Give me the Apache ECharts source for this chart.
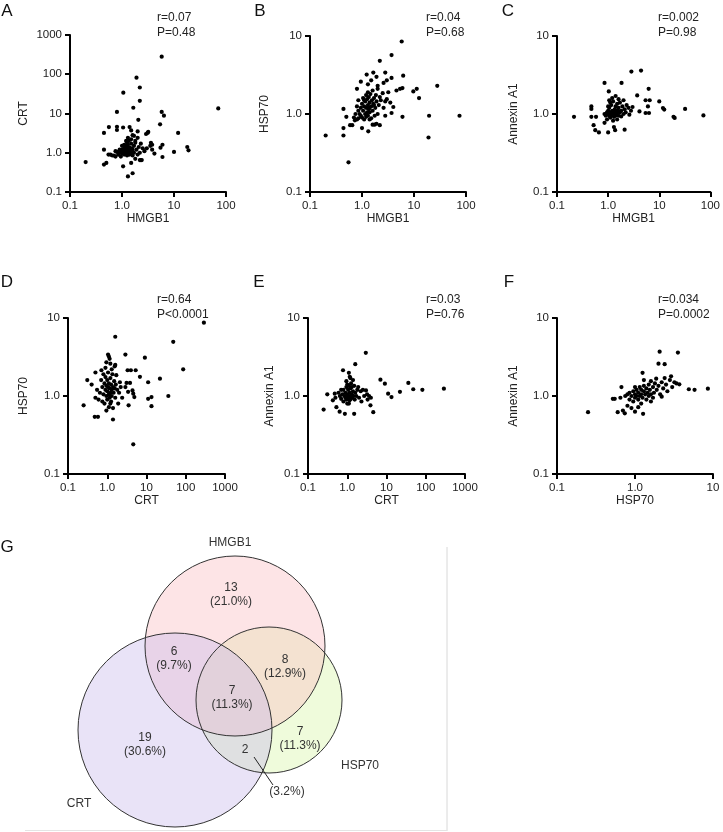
<!DOCTYPE html>
<html lang="en">
<head>
    <meta charset="UTF-8">
    <title>Correlation of HMGB1, CRT, HSP70, Annexin A1</title>
    <style>
        html, body { margin: 0; padding: 0; background: #fff; }
    </style>
</head>

<body>
<div id="main" style="width:723px;height:832px"></div>
<script src="https://cdn.jsdelivr.net/npm/echarts@6/dist/echarts.min.js"></script>
<script type="text/javascript">
    // ---- data ----
    var panelLetters = ['A', 'B', 'C', 'D', 'E', 'F'];
    var xNames = ['HMGB1', 'HMGB1', 'HMGB1', 'CRT', 'CRT', 'HSP70'];
    var yNames = ['CRT', 'HSP70', 'Annexin A1', 'HSP70', 'Annexin A1', 'Annexin A1'];
    var xMax = [100, 100, 100, 1000, 1000, 10];
    var yMax = [1000, 10, 10, 10, 10, 10];
    var statR = ['r=0.07', 'r=0.04', 'r=0.002', 'r=0.64', 'r=0.03', 'r=0.034'];
    var statP = ['P=0.48', 'P=0.68', 'P=0.98', 'P<0.0001', 'P=0.76', 'P=0.0002'];

    // A: HMGB1 vs CRT
    var hmgb1Crt = [
        [5.8, 280], [1.9, 82], [2.2, 46], [1.06, 34], [2.2, 21], [1.65, 14], [0.8, 11], [5.8, 11], [6.4, 8.8], [71, 13.5], [2.06, 6.9],
        [0.56, 4.5], [0.8, 4.6], [0.8, 3.8], [1.05, 4.4], [1.4, 4.5], [1.5, 3.7], [2.0, 3.5], [1.7, 2.7], [2.9, 3.0], [3.1, 3.2], [3.2, 3.4], [5.4, 5.3], [12, 3.2],
        [0.45, 3.2], [0.45, 1.2], [0.45, 0.5], [0.5, 0.55], [0.2, 0.58],
        [0.55, 0.9], [0.65, 0.85], [0.7, 0.85], [0.75, 0.8], [0.85, 0.9], [0.9, 1.0], [0.95, 1.1], [1.0, 1.2], [1.0, 0.95], [1.05, 1.0],
        [1.1, 1.3], [1.1, 0.9], [1.15, 1.5], [1.15, 1.1], [1.2, 0.95], [1.2, 1.25], [1.25, 1.8], [1.25, 1.4], [1.3, 1.0], [1.3, 1.6],
        [1.35, 1.2], [1.35, 2.0], [1.4, 0.9], [1.4, 1.35], [1.45, 1.1], [1.5, 1.7], [1.5, 1.0], [1.55, 1.3], [1.6, 0.85], [1.6, 1.2],
        [1.7, 1.5], [1.7, 1.0], [1.8, 2.0], [1.9, 1.2], [2.0, 0.9], [2.1, 1.4], [2.2, 1.0], [2.3, 1.7], [2.5, 1.3], [2.7, 1.1], [3.0, 1.3],
        [3.5, 1.5], [3.6, 1.8], [3.8, 1.2], [4.2, 0.95], [5.5, 1.35], [6.0, 0.78], [6.0, 1.6], [10, 1.05], [18, 1.4], [19, 1.15],
        [1.05, 0.45], [1.3, 0.25], [1.5, 0.55], [1.6, 0.3], [2.2, 0.65], [2.4, 0.65], [0.75, 1.1], [0.9, 1.2], [1.0, 1.5], [1.1, 1.6],
        [1.2, 2.0], [1.3, 2.4], [1.5, 2.2], [0.95, 0.8], [0.8, 1.05], [1.2, 1.1], [1.1, 1.05], [1.4, 1.05], [1.25, 0.85], [1.6, 1.05],
        [1.8, 0.7], [2.3, 0.65], [3.8, 1.6], [0.6, 0.9], [2.0, 2.4], [1.6, 2.8], [1.8, 1.8]
    ];
    // B: HMGB1 vs HSP70
    var hmgb1Hsp70 = [
        [5.8, 8.5], [3.7, 5.7], [2.2, 4.8], [1.23, 3.2], [1.65, 3.4], [1.9, 3.0], [2.8, 3.4], [3.7, 2.9], [3.0, 2.7], [0.95, 2.6], [0.8, 2.1],
        [6.2, 3.1], [4.6, 2.0], [5.4, 2.1], [6.0, 2.15], [9.7, 1.95], [11.3, 2.1], [12.5, 1.6], [28, 2.3], [2.6, 2.5], [2.0, 2.3], [1.5, 2.7], [1.3, 2.4],
        [19, 0.5], [19.5, 0.95], [75, 0.95], [6.0, 0.92], [2.8, 0.95], [3.7, 1.03], [4.0, 1.23], [0.44, 1.16], [0.44, 0.66], [0.44, 0.53],
        [0.2, 0.53], [0.55, 0.24], [0.5, 0.92], [0.59, 0.72], [0.65, 0.72], [0.73, 0.83], [0.85, 0.88], [1.0, 0.66], [1.32, 0.6], [1.6, 0.73],
        [1.75, 0.73], [1.4, 0.85],
        [0.8, 1.25], [0.85, 1.1], [0.85, 1.5], [0.9, 1.0], [0.95, 1.2], [1.0, 1.35], [1.0, 0.9], [1.05, 1.1], [1.05, 1.6], [1.1, 1.25],
        [1.1, 0.85], [1.15, 1.45], [1.15, 1.0], [1.2, 1.75], [1.2, 1.2], [1.25, 1.05], [1.25, 1.55], [1.3, 1.9], [1.3, 1.3], [1.3, 0.95],
        [1.35, 1.15], [1.35, 1.65], [1.4, 1.4], [1.4, 1.05], [1.45, 1.8], [1.5, 1.25], [1.5, 0.88], [1.55, 1.5], [1.6, 1.1], [1.6, 2.0],
        [1.65, 1.35], [1.7, 1.6], [1.75, 0.95], [1.8, 1.2], [1.85, 1.75], [1.9, 1.45], [2.0, 2.1], [2.0, 1.0], [2.1, 1.3], [2.2, 1.65],
        [2.3, 1.5], [2.5, 1.85], [2.6, 1.2], [2.8, 1.45], [3.0, 1.55], [3.2, 1.9], [3.5, 1.4], [0.95, 0.95], [1.1, 1.5], [1.2, 0.92],
        [1.4, 1.2], [1.7, 1.3], [1.9, 0.75], [2.2, 0.72], [0.7, 0.9], [0.75, 1.0], [0.8, 0.85]
    ];
    // C: HMGB1 vs Annexin A1
    var hmgb1Anx = [
        [4.4, 3.6], [2.85, 3.5], [0.85, 2.5], [1.83, 2.5], [6.2, 2.1], [3.7, 1.73], [1.03, 1.95], [5.4, 1.5], [6.5, 1.5], [10, 1.45],
        [11.8, 1.19], [12.5, 1.14], [19, 0.92], [20, 0.89], [32, 1.16], [73, 0.96], [6, 1.25], [6.3, 1.03], [5.4, 1.03], [4.1, 1.08], [3.0, 1.23],
        [0.215, 0.92], [0.47, 1.25], [0.47, 1.16], [0.47, 0.92], [0.58, 0.92], [0.52, 0.72], [0.56, 0.62], [0.66, 0.58], [1.0, 0.58],
        [1.37, 0.62], [2.1, 0.63], [0.85, 0.77], [1.3, 0.68],
        [0.85, 1.0], [0.9, 0.95], [0.95, 1.05], [1.0, 1.0], [1.0, 1.1], [1.05, 0.95], [1.05, 1.2], [1.1, 1.05], [1.1, 0.9], [1.15, 1.0],
        [1.15, 1.3], [1.2, 1.1], [1.2, 0.97], [1.25, 1.0], [1.25, 1.45], [1.3, 1.05], [1.3, 0.92], [1.35, 1.15], [1.35, 1.0], [1.4, 1.25],
        [1.4, 0.95], [1.45, 1.08], [1.5, 1.0], [1.5, 1.35], [1.55, 1.12], [1.6, 0.95], [1.6, 1.2], [1.7, 1.05], [1.7, 1.4], [1.8, 1.1],
        [1.8, 0.93], [1.9, 1.25], [2.0, 1.0], [2.0, 1.5], [2.1, 1.15], [2.2, 1.05], [2.3, 1.3], [2.5, 1.2], [2.6, 0.98], [2.8, 1.1],
        [1.1, 1.4], [1.2, 1.6], [1.0, 1.25], [0.95, 0.85], [1.25, 0.82], [1.5, 0.85], [1.05, 1.5], [1.4, 1.7], [1.6, 1.55]
    ];
    // D: CRT vs HSP70
    var crtHsp70 = [
        [290, 8.7], [48, 4.95], [86, 2.2], [1.6, 5.75], [2.9, 3.4], [9.1, 3.1], [1.05, 3.4], [1.1, 3.2], [1.15, 3.0], [0.95, 2.7], [1.2, 2.6],
        [1.55, 2.4], [0.31, 1.6], [0.5, 2.0], [0.71, 2.14], [0.25, 0.76], [0.48, 0.54], [0.58, 0.54], [1.4, 0.5], [4.6, 0.24], [11, 1.5],
        [22, 1.67], [36, 1.0], [13.4, 0.97], [11, 0.92], [13.4, 0.74], [3.3, 2.14], [4, 2.14], [5.3, 2.14], [6.8, 1.76], [3.1, 1.47],
        [3.8, 1.47], [2.9, 1.3], [3.4, 1.13], [4.4, 1.18], [4.6, 1.07], [4.9, 0.97], [3.5, 0.76], [0.4, 1.4], [0.55, 1.2], [0.6, 0.9],
        [0.5, 0.95], [0.65, 1.1],
        [0.7, 1.6], [0.75, 1.3], [0.75, 0.85], [0.8, 1.9], [0.8, 1.05], [0.85, 1.45], [0.85, 0.8], [0.9, 1.2], [0.9, 1.75], [0.95, 1.0],
        [0.95, 1.35], [1.0, 1.6], [1.0, 0.9], [1.0, 1.15], [1.05, 1.3], [1.05, 2.0], [1.1, 1.05], [1.1, 0.72], [1.1, 1.45], [1.15, 1.25],
        [1.15, 0.95], [1.2, 1.1], [1.2, 1.7], [1.25, 1.4], [1.25, 0.85], [1.3, 1.2], [1.3, 1.0], [1.35, 1.9], [1.4, 1.3], [1.4, 0.7],
        [1.45, 1.1], [1.5, 1.55], [1.55, 1.25], [1.6, 0.95], [1.65, 1.4], [1.7, 1.85], [1.8, 1.2], [1.9, 0.8], [2.0, 1.1], [2.1, 1.5],
        [2.2, 1.3], [2.4, 0.95], [1.3, 2.2], [0.9, 2.3], [1.2, 0.8], [0.95, 0.65], [1.6, 2.5]
    ];
    // E: CRT vs Annexin A1
    var crtAnx = [
        [2.97, 3.58], [1.6, 2.56], [0.78, 2.14], [1.1, 1.98], [1.16, 1.76], [7, 1.62], [9.1, 1.44], [36, 1.47], [48, 1.22], [82, 1.2],
        [290, 1.24], [22, 1.13], [11, 1.07], [13.4, 0.97], [0.25, 0.67], [0.31, 1.05], [0.53, 0.72], [0.64, 0.63], [0.87, 0.59], [1.5, 0.59],
        [4.6, 0.62], [3.9, 0.76], [0.48, 1.07], [0.43, 0.88], [0.5, 0.95],
        [0.6, 1.1], [0.65, 1.0], [0.7, 0.92], [0.75, 1.05], [0.8, 1.2], [0.8, 0.85], [0.85, 1.0], [0.9, 1.1], [0.9, 0.95], [0.95, 1.3],
        [0.95, 0.9], [1.0, 1.05], [1.0, 1.4], [1.0, 0.8], [1.05, 1.0], [1.05, 1.2], [1.1, 0.95], [1.1, 1.35], [1.15, 1.1], [1.15, 0.88],
        [1.2, 1.0], [1.2, 1.25], [1.25, 1.45], [1.25, 0.92], [1.3, 1.05], [1.3, 1.3], [1.35, 0.97], [1.4, 1.15], [1.45, 1.0], [1.5, 1.35],
        [1.55, 0.9], [1.6, 1.1], [1.7, 1.0], [1.8, 1.2], [2.0, 0.95], [2.2, 1.15], [2.5, 1.2], [2.7, 1.0], [3.0, 1.18], [3.3, 0.9],
        [3.6, 1.0], [4.0, 0.95], [2.3, 0.85], [3.2, 1.05], [1.9, 1.3], [1.4, 1.6], [1.2, 1.7], [0.95, 1.55], [1.1, 0.8], [0.7, 1.2]
    ];
    // F: HSP70 vs Annexin A1
    var hsp70Anx = [
        [0.25, 0.62], [2.07, 3.7], [3.55, 3.6], [2.0, 2.6], [2.4, 2.56], [1.25, 1.98], [2.9, 1.79], [1.87, 1.67], [4.9, 1.22], [5.8, 1.2],
        [8.6, 1.24], [3.7, 1.41], [3.4, 1.45], [0.52, 0.92], [0.55, 0.92], [0.6, 0.62], [0.7, 0.65], [0.74, 0.6], [1.0, 0.63], [1.27, 0.59],
        [0.67, 1.3], [0.65, 0.95], [0.8, 0.75], [0.9, 0.7], [1.1, 0.72],
        [0.75, 1.0], [0.8, 1.05], [0.85, 0.9], [0.85, 1.1], [0.9, 1.0], [0.95, 1.15], [0.95, 0.85], [1.0, 1.05], [1.0, 0.95], [1.05, 1.2],
        [1.05, 1.0], [1.1, 1.1], [1.1, 0.9], [1.15, 1.3], [1.15, 1.0], [1.2, 1.05], [1.2, 1.2], [1.25, 0.95], [1.3, 1.15], [1.3, 1.35],
        [1.35, 1.05], [1.4, 1.25], [1.4, 0.9], [1.45, 1.1], [1.5, 1.4], [1.5, 1.0], [1.55, 1.2], [1.6, 1.55], [1.6, 1.05], [1.7, 1.3],
        [1.75, 1.1], [1.8, 1.45], [1.9, 1.2], [2.0, 1.35], [2.1, 1.05], [2.2, 1.5], [2.3, 1.25], [2.5, 1.4], [2.6, 1.15], [2.8, 1.6],
        [3.0, 1.3], [2.2, 0.98], [1.6, 0.85], [1.2, 0.8], [1.0, 1.3], [1.3, 1.6], [1.7, 0.95], [2.4, 1.7], [3.2, 1.5]
    ];
    var panelData = [hmgb1Crt, hmgb1Hsp70, hmgb1Anx, crtHsp70, crtAnx, hsp70Anx];

    // G: Venn counts
    var vennSets = ['HMGB1', 'HSP70', 'CRT'];
    var vennCounts = [13, 6, 7, 8, 19, 7, 2];
    var vennPct = ['(21.0%)', '(9.7%)', '(11.3%)', '(12.9%)', '(30.6%)', '(11.3%)', '(3.2%)'];

    // ---- layout ----
    var FONT = '"Liberation Sans", Arial, Helvetica, sans-serif';
    var grids = [
        {left: 70, top: 35, width: 156, height: 157},
        {left: 310, top: 36, width: 156, height: 156},
        {left: 557, top: 36, width: 156, height: 156},
        {left: 68, top: 318, width: 157, height: 156},
        {left: 308, top: 318, width: 157, height: 156},
        {left: 557, top: 318, width: 156, height: 156}
    ];
    var letterPos = [[7, 11], [260, 11], [508, 11], [7, 282], [259, 282], [509, 282]];
    var statPos = [[157, 17], [426, 17], [658, 17], [157, 299], [426, 299], [658, 299]];
    var yNameGap = [40, 39, 37, 38, 32, 37];

    function logLabel(v) {
        var e = Math.round(Math.log10(v));
        if (e === 0) return '1.0';
        if (e < 0) return '0.1';
        return String(Math.pow(10, e));
    }

    function makeAxis(max, name, gap) {
        return {
            type: 'log', logBase: 10, min: 0.1, max: max,
            name: name, nameLocation: 'middle', nameGap: gap,
            nameTextStyle: {fontFamily: FONT, fontSize: 12, color: '#222'},
            axisLine: {lineStyle: {color: '#000', width: 2}},
            axisTick: {show: true, length: 5, lineStyle: {color: '#000', width: 2}},
            minorTick: {show: false},
            splitLine: {show: false},
            axisLabel: {fontFamily: FONT, fontSize: 11.5, color: '#222', margin: 8, formatter: logLabel, showMinLabel: true, showMaxLabel: true}
        };
    }

    var xAxes = [], yAxes = [], series = [], graphics = [];
    for (var i = 0; i < 6; i++) {
        var xa = makeAxis(xMax[i], xNames[i], 21);
        xa.gridIndex = i;
        xAxes.push(xa);
        var ya = makeAxis(yMax[i], yNames[i], yNameGap[i]);
        ya.gridIndex = i;
        yAxes.push(ya);
        series.push({
            type: 'scatter', xAxisIndex: i, yAxisIndex: i,
            data: panelData[i], symbolSize: 4.2,
            itemStyle: {color: '#000', opacity: 1}
        });
        graphics.push({
            type: 'text', x: letterPos[i][0], y: letterPos[i][1],
            style: {text: panelLetters[i], fontFamily: FONT, fontSize: 17, fill: '#111', align: 'center', verticalAlign: 'middle'}
        });
        graphics.push({
            type: 'text', x: statPos[i][0], y: statPos[i][1] - 7,
            style: {text: statR[i] + '\n' + statP[i], fontFamily: FONT, fontSize: 12, lineHeight: 15, fill: '#222', align: 'left', verticalAlign: 'top'}
        });
    }

    // Venn panel frame
    graphics.push({type: 'line', shape: {x1: 447, y1: 547, x2: 447, y2: 831}, style: {stroke: '#d8d8d8', lineWidth: 1}});
    graphics.push({type: 'line', shape: {x1: 25, y1: 830.5, x2: 447, y2: 830.5}, style: {stroke: '#e4e4e4', lineWidth: 1}});

    // fills drawn HSP70 -> HMGB1 -> CRT so the overlaps blend like the original
    graphics.push({type: 'circle', shape: {cx: 269, cy: 700, r: 73}, style: {fill: 'rgba(220,246,176,0.45)', stroke: 'none'}});
    graphics.push({type: 'circle', shape: {cx: 235, cy: 646, r: 90}, style: {fill: 'rgba(250,190,196,0.42)', stroke: 'none'}});
    graphics.push({type: 'circle', shape: {cx: 175, cy: 730, r: 97}, style: {fill: 'rgba(200,186,235,0.4)', stroke: 'none'}});
    graphics.push({type: 'circle', shape: {cx: 175, cy: 730, r: 97}, style: {fill: 'none', stroke: '#333', lineWidth: 1}});
    graphics.push({type: 'circle', shape: {cx: 235, cy: 646, r: 90}, style: {fill: 'none', stroke: '#333', lineWidth: 1}});
    graphics.push({type: 'circle', shape: {cx: 269, cy: 700, r: 73}, style: {fill: 'none', stroke: '#333', lineWidth: 1}});

    var vennLabelPos = [[231, 595], [174, 659], [232, 698], [285, 667], [145, 745], [300, 739]];
    for (var k = 0; k < 6; k++) {
        graphics.push({
            type: 'text', x: vennLabelPos[k][0], y: vennLabelPos[k][1],
            style: {text: vennCounts[k] + '\n' + vennPct[k], fontFamily: FONT, fontSize: 12, lineHeight: 14, fill: '#333', align: 'center', verticalAlign: 'middle'}
        });
    }
    graphics.push({type: 'text', x: 245, y: 750, style: {text: String(vennCounts[6]), fontFamily: FONT, fontSize: 12, fill: '#333', align: 'center', verticalAlign: 'middle'}});
    graphics.push({type: 'line', shape: {x1: 254, y1: 757, x2: 273, y2: 785}, style: {stroke: '#222', lineWidth: 1}});
    graphics.push({type: 'text', x: 287, y: 792, style: {text: vennPct[6], fontFamily: FONT, fontSize: 12, fill: '#333', align: 'center', verticalAlign: 'middle'}});

    graphics.push({type: 'text', x: 230, y: 543, style: {text: vennSets[0], fontFamily: FONT, fontSize: 12, fill: '#333', align: 'center', verticalAlign: 'middle'}});
    graphics.push({type: 'text', x: 360, y: 766, style: {text: vennSets[1], fontFamily: FONT, fontSize: 12, fill: '#333', align: 'center', verticalAlign: 'middle'}});
    graphics.push({type: 'text', x: 79, y: 804, style: {text: vennSets[2], fontFamily: FONT, fontSize: 12, fill: '#333', align: 'center', verticalAlign: 'middle'}});
    graphics.push({type: 'text', x: 7, y: 547, style: {text: 'G', fontFamily: FONT, fontSize: 17, fill: '#111', align: 'center', verticalAlign: 'middle'}});

    var myChart = echarts.init(document.getElementById('main'), null, {renderer: 'canvas'});
    var option = {
        animation: false,
        backgroundColor: '#fff',
        grid: grids,
        xAxis: xAxes,
        yAxis: yAxes,
        series: series,
        graphic: {elements: graphics}
    };
    option && myChart.setOption(option);
</script>
</body>
</html>
